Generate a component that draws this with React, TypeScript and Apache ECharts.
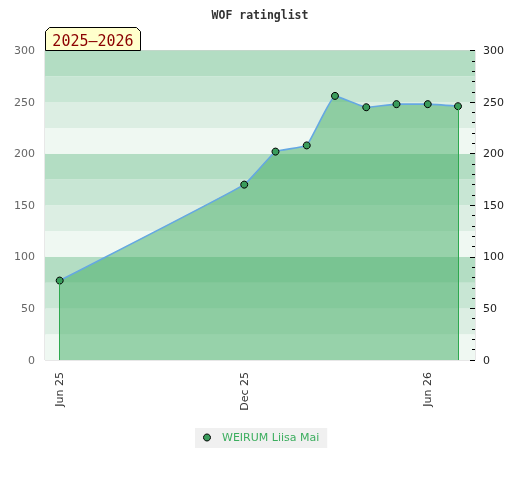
import React, { useEffect, useRef } from "react";
import * as echarts from "echarts";

const dates: number[] = [
  Date.UTC(2025, 5, 1),
  Date.UTC(2025, 11, 1),
  Date.UTC(2026, 0, 1),
  Date.UTC(2026, 1, 1),
  Date.UTC(2026, 2, 1),
  Date.UTC(2026, 3, 1),
  Date.UTC(2026, 4, 1),
  Date.UTC(2026, 5, 1),
  Date.UTC(2026, 6, 1),
];
const ratings: number[] = [77, 170, 202, 208, 256, 245, 248, 248, 246];
const xLabelDates: number[] = [Date.UTC(2025, 5, 1), Date.UTC(2025, 11, 1), Date.UTC(2026, 5, 1)];
const monthNames = ["Jan", "Feb", "Mar", "Apr", "May", "Jun", "Jul", "Aug", "Sep", "Oct", "Nov", "Dec"];
const bandColors = ["#eff8f2", "#dceee3", "#c8e6d4", "#b3ddc3"];
const seriesName = "WEIRUM Liisa Mai";
const titleText = "WOF ratinglist";
const seasonText = "2025\u20132026";
const xMin = Date.UTC(2025, 4, 17, 10, 5);
const xMax = Date.UTC(2026, 6, 17, 20, 40);

export default function App() {
  const ref = useRef<HTMLDivElement>(null);
  useEffect(() => {
    if (!ref.current) return;
    const chart = echarts.init(ref.current, undefined, { renderer: "svg" });
    const font = "DejaVu Sans";
    const n = dates.length - 1;
    chart.setOption({
      animation: false,
      title: {
        text: titleText,
        left: "center",
        top: 4,
        textStyle: { fontFamily: "DejaVu Sans Mono", fontWeight: "bold", fontSize: 11.5, color: "#333" },
      },
      grid: {
        left: 45,
        right: 45,
        top: 50.5,
        bottom: 120,
        show: true,
        borderColor: "#d0d0d0",
        borderWidth: 1,
        backgroundColor: "transparent",
      },
      legend: {
        data: [seriesName],
        left: 195,
        top: 428,
        icon: "circle",
        itemWidth: 20,
        itemHeight: 7,
        padding: [4, 8, 5, 8],
        backgroundColor: "#f0f0f0",
        itemStyle: { color: "#3a9c5c", borderColor: "#000", borderWidth: 1 },
        textStyle: { color: "#3cae5f", fontSize: 11, fontFamily: font },
      },
      xAxis: {
        type: "value",
        min: xMin,
        max: xMax,
        axisLine: { show: false },
        axisTick: { show: false },
        splitLine: { show: false },
        axisLabel: {
          customValues: xLabelDates,
          rotate: 90,
          margin: 12,
          color: "#333",
          fontSize: 11,
          fontFamily: font,
          formatter: (v: number) => {
            const d = new Date(v);
            return monthNames[d.getUTCMonth()] + " " + String(d.getUTCFullYear()).slice(2);
          },
        },
      },
      yAxis: [
        {
          type: "value",
          position: "left",
          min: 0,
          max: 300,
          interval: 50,
          axisLine: { show: false },
          axisTick: { show: false },
          splitLine: { show: false },
          axisLabel: { color: "#666", fontSize: 11, fontFamily: font, margin: 10 },
        },
        {
          type: "value",
          position: "right",
          min: 0,
          max: 300,
          interval: 50,
          axisLine: { show: false },
          axisTick: { show: true, inside: true, length: 5, lineStyle: { color: "#000" } },
          minorTick: { show: true, splitNumber: 5, length: 3, lineStyle: { color: "#000" } },
          splitLine: { show: false },
          axisLabel: { color: "#222", fontSize: 11, fontFamily: font, margin: 8 },
        },
        {
          type: "value",
          position: "left",
          min: 0,
          max: 300,
          interval: 25,
          axisLine: { show: false },
          axisTick: { show: false },
          splitLine: { show: false },
          axisLabel: { show: false },
          splitArea: { show: true, areaStyle: { color: bandColors } },
        },
      ],
      series: [
        {
          name: seriesName,
          type: "line",
          yAxisIndex: 0,
          data: dates.map((d, i) => [d, ratings[i]]),
          symbol: "circle",
          symbolSize: 7,
          smooth: 0.1,
          itemStyle: { color: "#3a9c5c", borderColor: "#000", borderWidth: 1 },
          lineStyle: { color: "#65a8e2", width: 1.6 },
          areaStyle: { color: "rgba(63,171,97,0.5)", opacity: 1, origin: "start" },
          markLine: {
            silent: true,
            symbol: ["none", "none"],
            label: { show: false },
            lineStyle: { color: "#2ea84f", width: 1, type: "solid", opacity: 1 },
            data: [
              [{ coord: [dates[0], 0] }, { coord: [dates[0], ratings[0]] }],
              [{ coord: [dates[n], 0] }, { coord: [dates[n], ratings[n]] }],
            ],
          },
        },
      ],
      graphic: [
        {
          type: "polygon",
          z: 100,
          shape: {
            points: [
              [45.5, 50.5],
              [45.5, 31.5],
              [49.5, 27.5],
              [136.5, 27.5],
              [140.5, 31.5],
              [140.5, 50.5],
            ],
          },
          style: { fill: "#ffffcc", stroke: "#000", lineWidth: 1 },
        },
        {
          type: "text",
          z: 101,
          x: 93,
          y: 40.5,
          style: {
            text: seasonText,
            fill: "#8b0000",
            font: "15px 'DejaVu Sans Mono'",
            align: "center",
            verticalAlign: "middle",
          },
        },
      ],
    });
    return () => chart.dispose();
  }, []);
  return <div ref={ref} style={{ position: "fixed", left: 0, top: 0, width: 520, height: 480 }} />;
}
